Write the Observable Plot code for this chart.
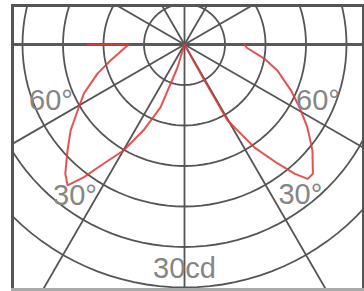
<!DOCTYPE html>
<html><head><meta charset="utf-8">
<script src="https://cdn.jsdelivr.net/npm/d3@7"></script>
<script src="https://cdn.jsdelivr.net/npm/@observablehq/plot@0.6"></script>
<style>html,body{margin:0;padding:0;background:#fff}svg{display:block}</style>
</head><body><div id="chart"></div>
<script>
// Polar luminous intensity diagram (cd), angle measured from nadir (down)
const ringValues = [5, 10, 15, 20, 25, 30];
const spokeAngles = [0, 30, 60, 90, 120, 150, 180, 210, 240, 270, 300, 330];
const curveAngles = [-90, -90, -77.8, -71.6, -64.1, -58.3, -53, -47.8, -42.7, -39.7, -37.2, -34.2, -29.9, -25.5, -20.9, -17, 0,
                     29, 29.5, 34.2, 38, 40.5, 42.5, 44.8, 50.4, 56, 61.3, 66.7, 74.4, 80, 87, 90];
const curveValues = [12.0, 6.9, 9.35, 11.3, 13.8, 15.5, 17.6, 19.5, 21.7, 22.6, 20.6, 17.8, 15.1, 11.7, 8.3, 3.0, 0,
                     5.1, 10.7, 15.4, 18.6, 21.0, 22.5, 22.5, 20.5, 18.3, 16.2, 14.3, 11.9, 10.0, 7.7, 7.4];
const labelTexts = ["60°", "60°", "30°", "30°", "30cd"];
const labelAngles = [-67, 67, -36, 37.7, 0];
const labelValues = [17.9, 17.9, 23.0, 23.4, 27.7];

const k = 8.1; // px per cd
const cx = 184, cy = 44;
const W = 364, H = 291;
const mL = 12, mR = 1, mT = 5, mB = 2;
const rad = a => a * Math.PI / 180;
const px = (a, r) => r * Math.sin(rad(a));
const py = (a, r) => r * Math.cos(rad(a));

const ringPts = ringValues.flatMap(r => d3.range(0, 361, 3).map(a => ({ring: r, x: px(a, r), y: py(a, r)})));
const spokes = spokeAngles.map(a => ({a, x: px(a, 45), y: py(a, 45)}));
const curve = curveAngles.map((a, i) => ({x: px(a, curveValues[i]), y: py(a, curveValues[i])}));
const labels = labelTexts.map((t, i) => ({t, x: px(labelAngles[i], labelValues[i]), y: py(labelAngles[i], labelValues[i])}));

const chart = Plot.plot({
  width: W, height: H,
  marginLeft: mL, marginRight: mR, marginTop: mT, marginBottom: mB,
  x: {domain: [(mL - cx) / k, (W - mR - cx) / k], range: [mL, W - mR], axis: null},
  y: {domain: [(mT - cy) / k, (H - mB - cy) / k], range: [mT, H - mB], axis: null},
  style: {background: "#fff"},
  marks: [
    Plot.line(ringPts, {x: "x", y: "y", z: "ring", stroke: "#555", strokeWidth: 1.8, clip: true}),
    Plot.link(spokes.filter(d => d.a % 180 !== 90), {x1: 0, y1: 0, x2: "x", y2: "y", stroke: "#555", strokeWidth: 1.8, clip: true}),
    Plot.link(spokes.filter(d => d.a % 180 === 90), {x1: 0, y1: 0, x2: "x", y2: "y", stroke: "#5a5a5a", strokeWidth: 3, clip: true}),
    Plot.line(curve, {x: "x", y: "y", stroke: "#e03a3a", strokeWidth: 2, strokeOpacity: 0.88, curve: "linear", clip: true}),
    Plot.text(labels, {x: "x", y: "y", text: "t", fill: "#858585", fontSize: 29, fontFamily: "Liberation Sans, Arial, sans-serif"}),
    Plot.frame({stroke: "#555", strokeWidth: 3}),
    Plot.frame({stroke: "#aaa", strokeWidth: 3, anchor: "bottom"})
  ]
});
document.getElementById("chart").appendChild(chart);
</script>
</body></html>
